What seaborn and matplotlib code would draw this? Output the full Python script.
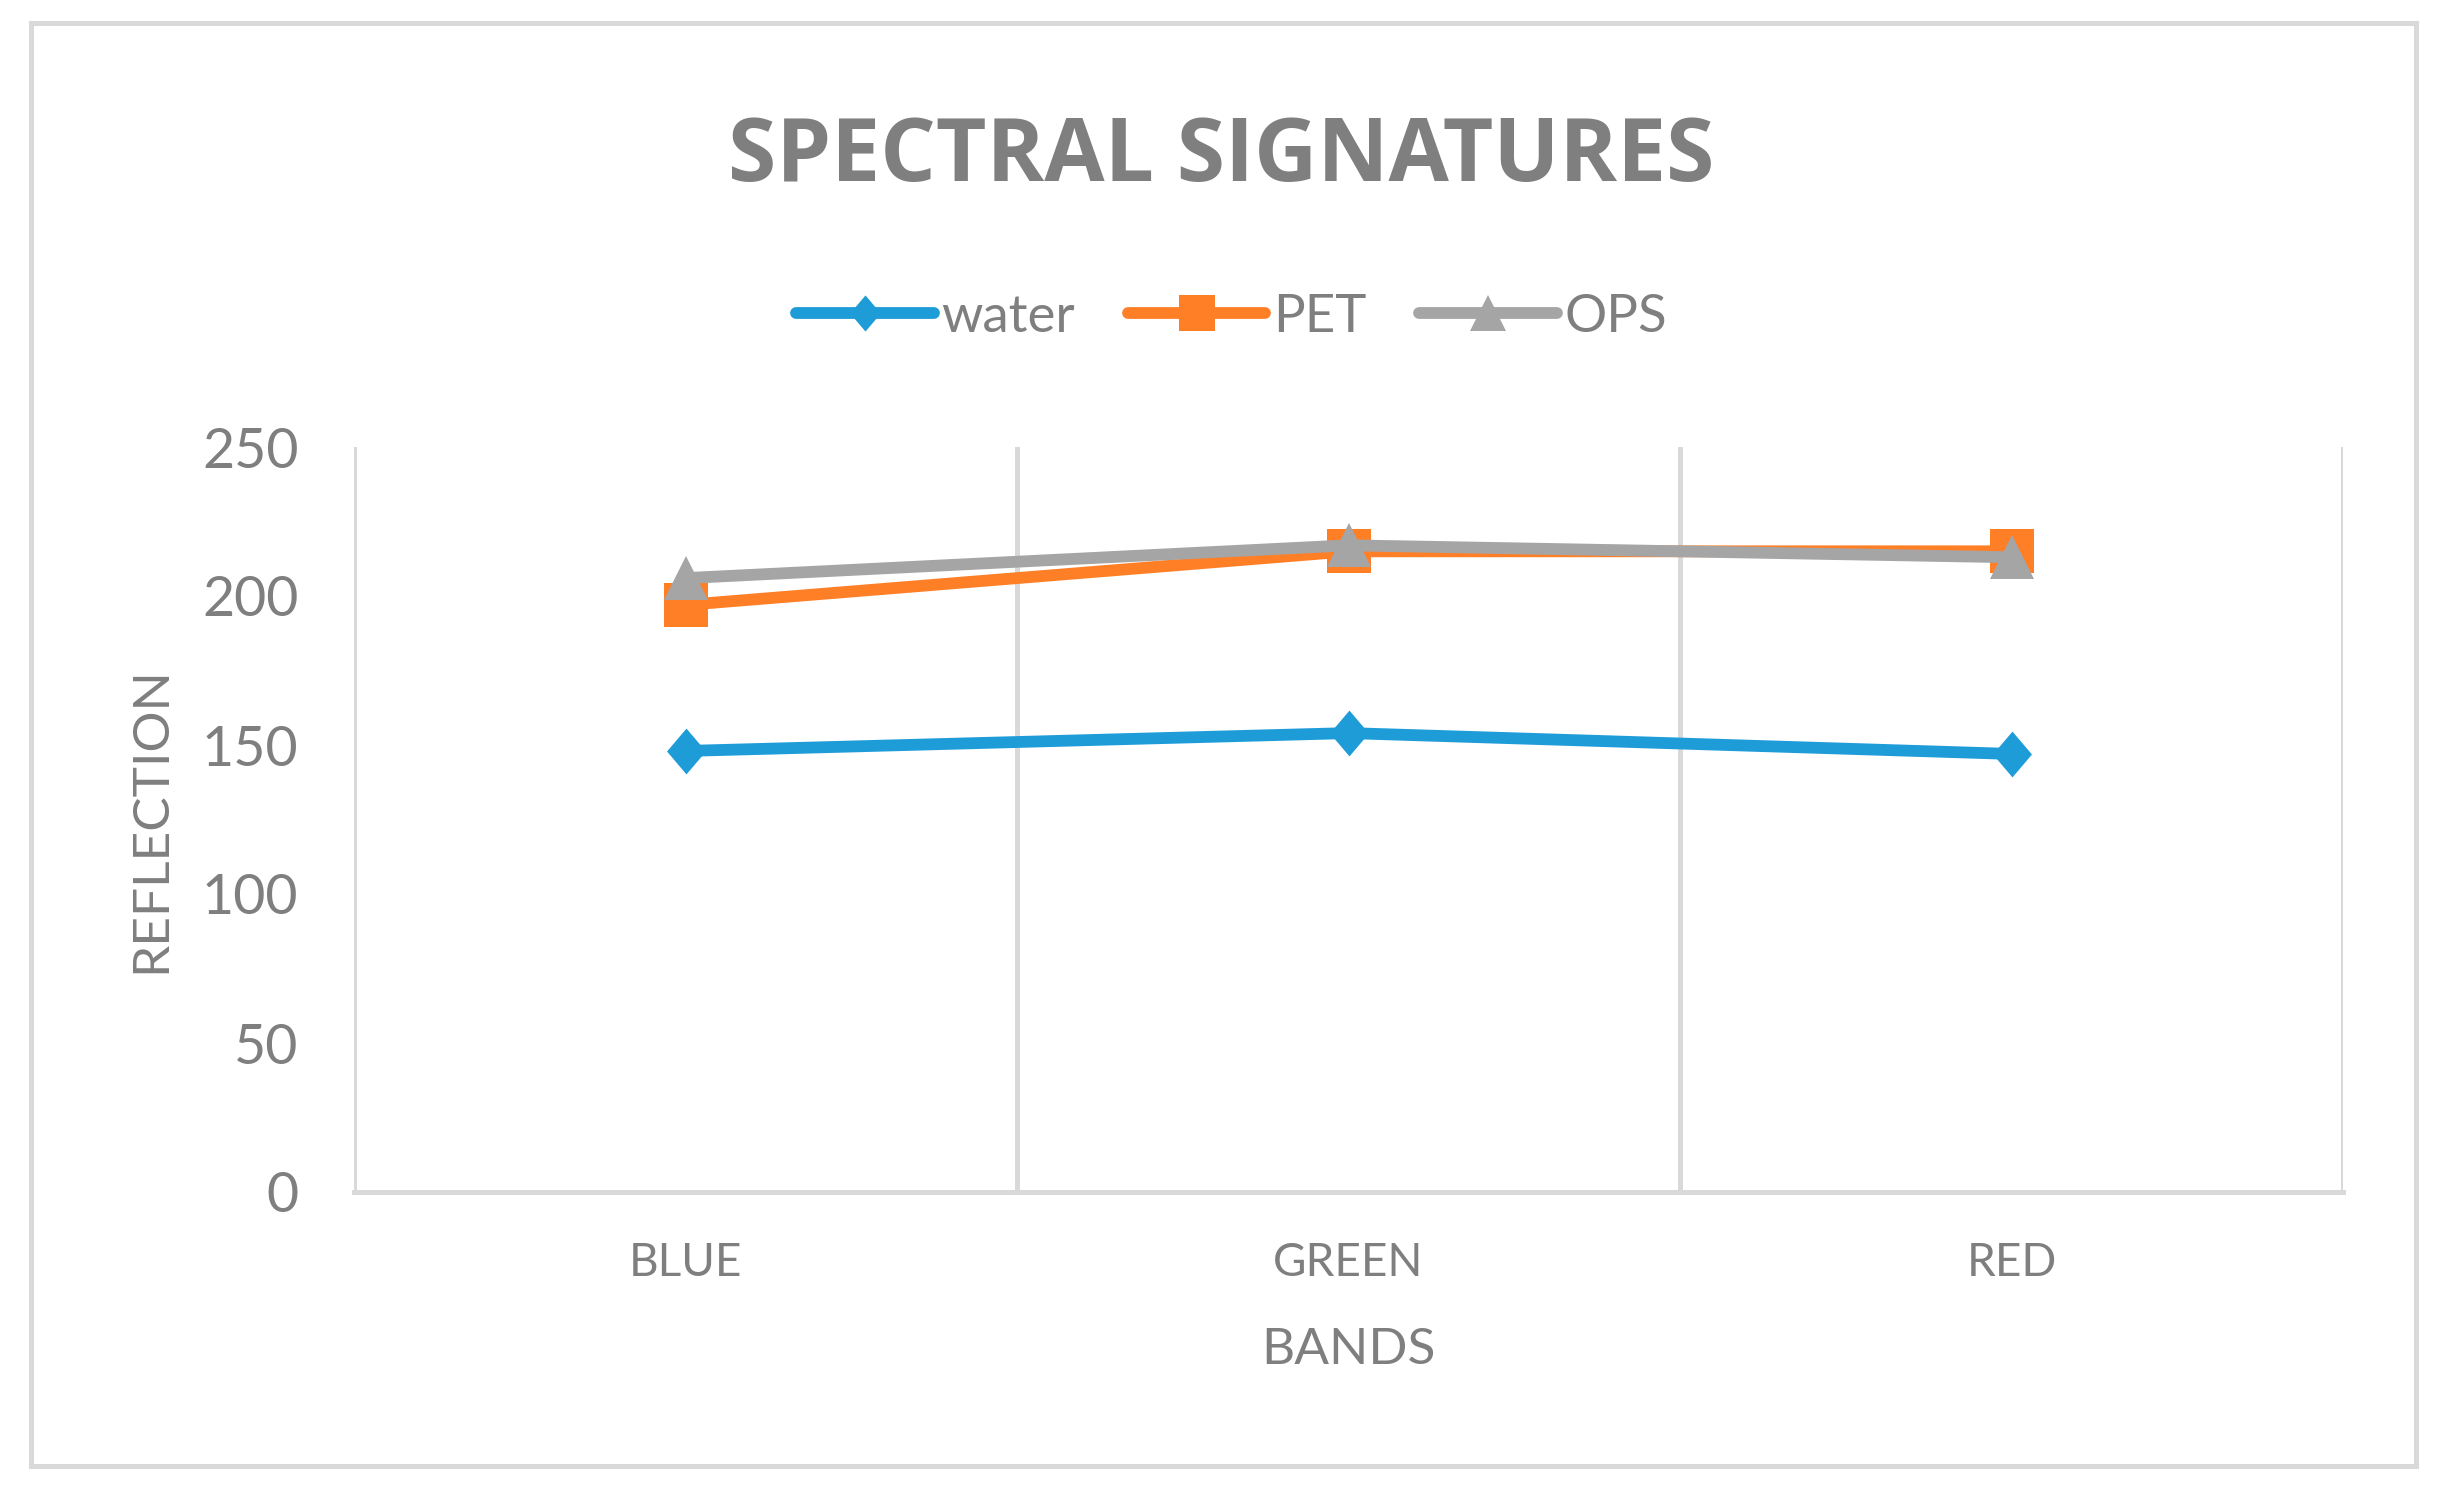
import matplotlib
matplotlib.use("Agg")
import matplotlib.pyplot as plt
from matplotlib.lines import Line2D
from matplotlib.patches import Rectangle
import seaborn as sns
import pandas as pd

bands = ["BLUE", "GREEN", "RED"]
water = [148, 154, 147]
pet = [197, 215, 215]
ops = [206, 217, 213]
series_names = ["water", "PET", "OPS"]

colors = {"water": "#1E9CD8", "PET": "#FF7F27", "OPS": "#A5A5A5"}
diamond = [(0, 1), (0.85, 0), (0, -1), (-0.85, 0)]
markers = {"water": diamond, "PET": "s", "OPS": "^"}
text_gray = "#7F7F7F"
grid_gray = "#D9D9D9"

df = pd.DataFrame({
    "band": bands * 3,
    "value": water + pet + ops,
    "material": [n for n in series_names for _ in bands],
})

sns.set_style("white")
plt.rcParams["font.family"] = ["Lato", "DejaVu Sans"]

fig = plt.figure(figsize=(24.44, 15.02), dpi=100)
ax = fig.add_axes([354 / 2444, 1 - 1192 / 1502, (2343 - 354) / 2444, (1192 - 447) / 1502])

sns.lineplot(data=df, x="band", y="value", hue="material", style="material",
             hue_order=series_names, style_order=series_names,
             palette=colors, markers=markers, dashes=False, sort=False,
             linewidth=8.5, ax=ax, legend=False)

sizes = {"water": 33, "PET": 32, "OPS": 32}
for line, name in zip(ax.lines, series_names):
    line.set_markersize(sizes[name])
    line.set_markeredgewidth(0)
    line.set_solid_capstyle("round")
    line.set_solid_joinstyle("round")

ax.set_xlim(-0.5, 2.5)
ax.set_ylim(0, 250)
ax.set_yticks(range(0, 251, 50))
ax.set_xticks(range(len(bands)))
ax.set_xticklabels(bands)
ax.set_xticks([-0.5, 0.5, 1.5, 2.5], minor=True)
ax.grid(False)
ax.grid(True, which="minor", axis="x", color=grid_gray, linewidth=3.6)
ax.tick_params(axis="both", which="both", length=0)
ax.tick_params(axis="y", labelsize=40, labelcolor=text_gray, pad=40)
ax.tick_params(axis="x", labelsize=33, labelcolor=text_gray, pad=36)
for side in ["top", "left", "right"]:
    ax.spines[side].set_visible(False)
ax.spines["bottom"].set_color(grid_gray)
ax.spines["bottom"].set_linewidth(3.6)

ax.set_xlabel("BANDS", fontsize=37, color=text_gray, va="center")
ax.set_ylabel("REFLECTION", fontsize=37, color=text_gray, va="center")
ax.xaxis.set_label_coords(0.5, (1192 - 1350) / (1192 - 447))
ax.yaxis.set_label_coords((151 - 354) / (2343 - 354), 0.5)

fig.text(0.4996, 1 - 158 / 1502, "SPECTRAL SIGNATURES", fontsize=63,
         fontweight="bold", family=["Open Sans", "DejaVu Sans"],
         color=text_gray, ha="center", va="center")

handles = [Line2D([], [], color=colors[n], marker=markers[n], markersize=26,
                  markeredgewidth=0, linewidth=8.5, solid_capstyle="round")
           for n in series_names]
fig.legend(handles, series_names, loc="center", bbox_to_anchor=(0.504, 1 - 317 / 1502),
           ncol=3, frameon=False, fontsize=38, labelcolor=text_gray,
           handlelength=2.6, handletextpad=0.15, columnspacing=1.0)

fig.add_artist(Rectangle((31 / 2444, 1 - 1466 / 1502), (2416 - 31) / 2444,
                         (1466 - 23) / 1502, transform=fig.transFigure,
                         fill=False, edgecolor=grid_gray, linewidth=3.6))

fig.savefig("out.png", dpi=100, facecolor="white")
